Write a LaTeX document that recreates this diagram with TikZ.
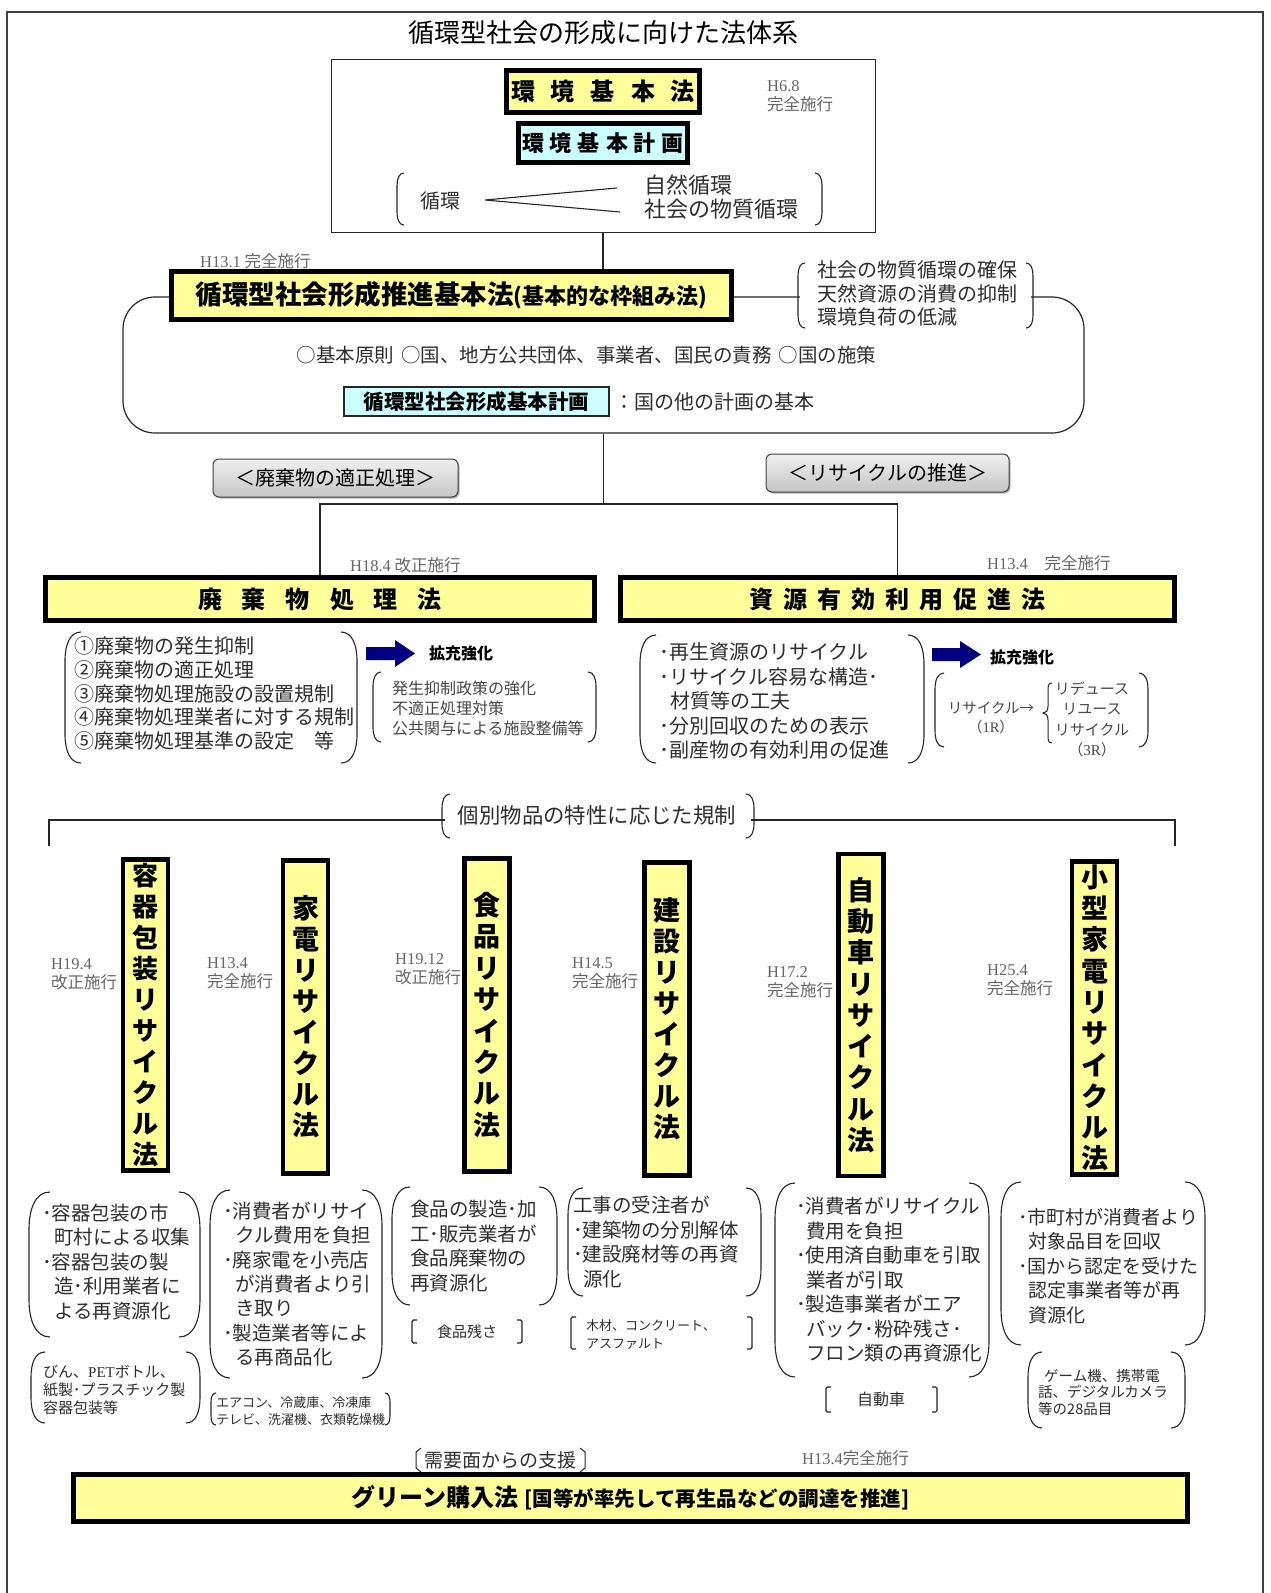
\documentclass[tikz,border=0pt]{standalone}
\usepackage{fontspec}
\setmainfont{Noto Sans CJK JP}
\newfontfamily\latf{Liberation Serif}
\usetikzlibrary{shadows}
\definecolor{lawy}{HTML}{FFFF99}
\definecolor{plan}{HTML}{CCFFFF}
\definecolor{navyb}{HTML}{000080}
\newcommand\fsz[2]{\fontsize{#1pt}{#2pt}\selectfont}
\newcommand\LB[4]{\draw[brk] (#1+#4,#2) .. controls (#1+0.3*#4,#2) and (#1,#2+0.8*#4) .. (#1,#2+1.8*#4) -- (#1,#3-1.8*#4) .. controls (#1,#3-0.8*#4) and (#1+0.3*#4,#3) .. (#1+#4,#3);}
\newcommand\RB[4]{\draw[brk] (#1-#4,#2) .. controls (#1-0.3*#4,#2) and (#1,#2+0.8*#4) .. (#1,#2+1.8*#4) -- (#1,#3-1.8*#4) .. controls (#1,#3-0.8*#4) and (#1-0.3*#4,#3) .. (#1-#4,#3);}
\newcommand\SLB[4]{\draw[brk, rounded corners=1.5pt] (#1+#4,#2) -- (#1,#2) -- (#1,#3) -- (#1+#4,#3);}
\newcommand\SRB[4]{\draw[brk, rounded corners=1.5pt] (#1-#4,#2) -- (#1,#2) -- (#1,#3) -- (#1-#4,#3);}
\newcommand\infr[2][4.5]{\draw[line width=0.8pt] ([shift={(#1,#1)}]#2.north west) rectangle ([shift={(-#1,-#1)}]#2.south east);}
\begin{document}
\begin{tikzpicture}[x=1pt,y=-1pt,
  txt/.style={inner sep=0pt, text=black!82},
  dt/.style={inner sep=0pt, text=black!60, font=\fsz{16.5}{19}, align=left, anchor=west},
  law/.style={draw=black, line width=4pt, fill=lawy, inner sep=0pt, font=\bfseries},
  vlaw/.style={law, line width=3.5pt, minimum width=46pt, align=center},
  brk/.style={draw=black!85, line width=1.1pt},
  conn/.style={draw=black!85, line width=1.2pt},
  grad/.style={draw=black!75, line width=1pt, rounded corners=6pt, top color=gray!12, bottom color=gray!45,
     minimum height=38pt, inner sep=0pt, font=\fsz{20}{24},
     drop shadow={shadow xshift=1.5pt, shadow yshift=-1.5pt, fill=black!50, opacity=.6}},
  vl/.style={txt, anchor=west, align=left}
]
\useasboundingbox (0,0) rectangle (1270,1593);
\fill[white] (0,0) rectangle (1270,1593);
\draw[black!75, line width=1.2pt] (7,1593) -- (7,12) -- (1263,12) -- (1263,1593);

% title
\node[inner sep=0pt, font=\fsz{26}{30}] (title) at (603,33) {循環型社会の形成に向けた法体系};

% environment box
\node[draw=black!85, line width=1pt, minimum width=544pt, minimum height=173pt, inner sep=0pt] (envbox) at (603,145.5) {};
\node[law, minimum width=194pt, minimum height=43pt, font=\bfseries\fsz{24}{28}] (kankyo) at (603,91.5)
  {環\hspace{16pt}境\hspace{16pt}基\hspace{16pt}本\hspace{16pt}法};
\infr{kankyo}
\node[law, fill=plan, line width=3.5pt, minimum width=170pt, minimum height=40pt, font=\bfseries\fsz{22}{26}] (keikaku) at (603,143)
  {環\hspace{6pt}境\hspace{6pt}基\hspace{6pt}本\hspace{6pt}計\hspace{6pt}画};
\infr[4]{keikaku}
\node[dt] (d1) at (767,96) {{\latf H6.8}\\完全施行};
\LB{397}{173}{225}{7}
\RB{822}{173}{225}{7}
\node[txt, font=\fsz{20}{24}] (jun) at (440,201) {循環};
\coordinate (apex) at (485,200);
\coordinate (e1) at (617,188);
\coordinate (e2) at (620,212);
\draw[brk] (e1) -- (apex) -- (e2);
\node[txt, anchor=west, font=\fsz{22}{24}] (shizen) at (644,185) {自然循環};
\node[txt, anchor=west, font=\fsz{22}{24}] (shakai) at (644,209) {社会の物質循環};

% basic law frame
\node[draw=black!85, line width=1.2pt, rounded corners=32pt, minimum width=961pt, minimum height=136pt, inner sep=0pt] (bigrr) at (603.5,365) {};
\node[dt] (d2) at (200,261) {{\latf H13.1} 完全施行};
\node[law, minimum width=561pt, minimum height=49pt] (junkan) at (451.5,295.5)
  {{\fsz{26.5}{30}循環型社会形成推進基本法}{\fsz{22}{26}(基本的な枠組み法)}};
\infr{junkan}
\draw[conn] (envbox.south) -- (envbox.south |- junkan.north);
\node[fill=white, minimum width=231pt, minimum height=62pt, inner sep=0pt] (goalbg) at (915.5,295.5) {};
\LB{798}{263}{328}{7}
\RB{1033}{263}{328}{7}
\node[vl, font=\fsz{20}{23.5}] (goals) at (817,293.5) {社会の物質循環の確保\\天然資源の消費の抑制\\環境負荷の低減};
\node[txt, font=\fsz{19.5}{24}] (gensoku) at (586.5,355) {○基本原則\hspace{7pt}○国、地方公共団体、事業者、国民の責務\hspace{7pt}○国の施策};
\node[draw=black!85, line width=1.3pt, fill=plan, minimum width=265pt, minimum height=29pt, inner sep=0pt, font=\bfseries\fsz{20.5}{24}] (jplan) at (476.5,401.5) {循環型社会形成基本計画};
\node[txt, anchor=west, font=\fsz{20}{24}] (kihon) at (614,402) {：国の他の計画の基本};

% headings
\node[grad, minimum width=245pt] (tekisei) at (335.5,478) {＜廃棄物の適正処理＞};
\node[grad, minimum width=243pt] (suishin) at (887.5,473) {＜リサイクルの推進＞};

% two laws
\node[dt] (d3) at (350,565) {{\latf H18.4} 改正施行};
\node[dt] (d4) at (987,563) {{\latf H13.4}　完全施行};
\node[law, minimum width=550pt, minimum height=44pt, font=\bfseries\fsz{24}{28}] (haiki) at (320,599)
  {廃\hspace{20pt}棄\hspace{20pt}物\hspace{20pt}処\hspace{20pt}理\hspace{20pt}法};
\infr{haiki}
\node[law, minimum width=555pt, minimum height=44pt, font=\bfseries\fsz{24}{28}] (shigen) at (897.5,599)
  {資\hspace{10pt}源\hspace{10pt}有\hspace{10pt}効\hspace{10pt}利\hspace{10pt}用\hspace{10pt}促\hspace{10pt}進\hspace{10pt}法};
\infr{shigen}
\coordinate (split) at (603.5,504);
\draw[conn] (bigrr.south) -- (split);
\draw[conn] (haiki.north) |- (split) -| (shigen.north);

% waste law list
\LB{65}{632}{763}{16}
\RB{357}{632}{763}{16}
\node[vl, font=\fsz{20}{23.7}] (hlist) at (74,693.5) {①廃棄物の発生抑制\\②廃棄物の適正処理\\③廃棄物処理施設の設置規制\\④廃棄物処理業者に対する規制\\⑤廃棄物処理基準の設定　等};
\fill[navyb] (366,647) -- (395,647) -- (395,640) -- (415,653.5) -- (395,667) -- (395,660) -- (366,660) -- cycle;
\node[inner sep=0pt, anchor=west, font=\bfseries\fsz{16}{19}] (kaku1) at (429,653) {拡充強化};
\LB{373}{672}{742}{8}
\RB{596}{672}{742}{8}
\node[vl, text=black!72, font=\fsz{16}{20}] (hsub) at (392,708) {発生抑制政策の強化\\不適正処理対策\\公共関与による施設整備等};

% resource law list
\LB{640}{635}{763}{16}
\RB{924}{635}{763}{16}
\node[vl, font=\fsz{20}{24.5}] (slist) at (659,701) {･再生資源のリサイクル\\･リサイクル容易な構造･\\\hspace*{11pt}材質等の工夫\\･分別回収のための表示\\･副産物の有効利用の促進};
\fill[navyb] (932,648) -- (960,648) -- (960,641) -- (981,654.5) -- (960,668) -- (960,661) -- (932,661) -- cycle;
\node[inner sep=0pt, anchor=west, font=\bfseries\fsz{16}{19}] (kaku2) at (990,657) {拡充強化};
\LB{935}{673}{747}{9}
\RB{1148}{673}{747}{9}
\node[txt, text=black!72, font=\fsz{14.5}{19}, align=center] (r1) at (991,718) {リサイクル→\\（{\latf 1R}）};
\draw[brk, line width=1pt] (1052,683) .. controls (1048,683) and (1048,686) .. (1048,692) -- (1048,706) .. controls (1048,711) and (1046,713) .. (1043,713) .. controls (1046,713) and (1048,715) .. (1048,720) -- (1048,734) .. controls (1048,740) and (1048,743) .. (1052,743);
\node[txt, text=black!72, font=\fsz{15}{20.5}, align=center] (r3) at (1092,719.5) {リデュース\\リユース\\リサイクル\\（{\latf 3R}）};

% individual items heading
\coordinate (kl) at (49,846);
\coordinate (kr) at (1175,846);
\coordinate (ktop) at (612,820);
\draw[conn] (kl) |- (ktop) -| (kr);
\node[fill=white, minimum width=306pt, minimum height=30pt, inner sep=0pt] (kbg) at (598,820) {};
\LB{442}{794}{838}{8}
\RB{754}{794}{838}{8}
\node[txt, font=\fsz{21.4}{25}] (kobetsu) at (597,815) {個別物品の特性に応じた規制};

% vertical laws
\node[vlaw, minimum height=312pt, font=\bfseries\fsz{26}{31}] (youki) at (145.5,1015) {容\\器\\包\\装\\リ\\サ\\イ\\ク\\ル\\法};
\infr[4]{youki}
\node[vlaw, minimum height=314pt, font=\bfseries\fsz{27}{31}] (kaden) at (305.5,1017) {家\\電\\リ\\サ\\イ\\ク\\ル\\法};
\infr[4]{kaden}
\node[vlaw, minimum height=314pt, font=\bfseries\fsz{27}{31.4}] (shoku) at (487,1015) {食\\品\\リ\\サ\\イ\\ク\\ル\\法};
\infr[4]{shoku}
\node[vlaw, minimum height=314pt, font=\bfseries\fsz{27}{31}] (kensetsu) at (667,1019) {建\\設\\リ\\サ\\イ\\ク\\ル\\法};
\infr[4]{kensetsu}
\node[vlaw, minimum height=323pt, font=\bfseries\fsz{27}{31.25}] (jidou) at (861,1015) {自\\動\\車\\リ\\サ\\イ\\ク\\ル\\法};
\infr[4]{jidou}
\node[vlaw, minimum height=314pt, font=\bfseries\fsz{27}{31.3}] (kogata) at (1094.5,1018) {小\\型\\家\\電\\リ\\サ\\イ\\ク\\ル\\法};
\infr[4]{kogata}
\node[dt] (v1) at (51,974) {{\latf H19.4}\\改正施行};
\node[dt] (v2) at (207,973) {{\latf H13.4}\\完全施行};
\node[dt] (v3) at (395,969) {{\latf H19.12}\\改正施行};
\node[dt] (v4) at (572,973) {{\latf H14.5}\\完全施行};
\node[dt] (v5) at (767,982) {{\latf H17.2}\\完全施行};
\node[dt] (v6) at (987,980) {{\latf H25.4}\\完全施行};

% bottom groups
\LB{29}{1192}{1337}{21}
\RB{200}{1192}{1337}{21}
\node[vl, font=\fsz{19.5}{24.5}] (g1) at (42,1262) {･容器包装の市\\\hspace*{12pt}町村による収集\\･容器包装の製\\\hspace*{12pt}造･利用業者に\\\hspace*{12pt}よる再資源化};
\LB{31}{1352}{1423}{14}
\RB{200}{1352}{1423}{14}
\node[vl, font=\fsz{15}{18}] (g1s) at (43,1390) {びん、{\latf PET}ボトル、\\紙製･プラスチック製\\容器包装等};

\LB{210}{1190}{1378}{20}
\RB{382}{1190}{1378}{20}
\node[vl, font=\fsz{19.5}{24.3}] (g2) at (223,1284) {･消費者がリサイ\\\hspace*{12pt}クル費用を負担\\･廃家電を小売店\\\hspace*{12pt}が消費者より引\\\hspace*{12pt}き取り\\･製造業者等によ\\\hspace*{12pt}る再商品化};
\LB{211}{1393}{1425}{5}
\RB{390}{1393}{1425}{5}
\node[vl, font=\fsz{13}{17}] (g2s) at (216,1411.5) {エアコン、冷蔵庫、冷凍庫\\テレビ、洗濯機、衣類乾燥機};

\LB{392}{1187}{1305}{18}
\RB{557}{1187}{1305}{18}
\node[vl, font=\fsz{19.5}{24.5}] (g3) at (410,1246) {食品の製造･加\\工･販売業者が\\食品廃棄物の\\再資源化};
\SLB{412}{1320}{1343}{5}
\SRB{522}{1320}{1343}{5}
\node[txt, font=\fsz{15}{18}] (g3s) at (467,1332) {食品残さ};

\LB{568}{1188}{1296}{15}
\RB{761}{1188}{1296}{15}
\node[vl, font=\fsz{19.5}{24.5}] (g4) at (573,1242) {工事の受注者が\\･建築物の分別解体\\･建設廃材等の再資\\\hspace*{10pt}源化};
\SLB{571}{1317}{1349}{5}
\SRB{752}{1317}{1349}{5}
\node[vl, font=\fsz{13}{18}] (g4s) at (586,1335) {木材、コンクリート、\\アスファルト};

\LB{775}{1183}{1377}{20}
\RB{989}{1183}{1377}{20}
\node[vl, font=\fsz{19.5}{24.5}] (g5) at (796,1280) {･消費者がリサイクル\\\hspace*{10pt}費用を負担\\･使用済自動車を引取\\\hspace*{10pt}業者が引取\\･製造事業者がエア\\\hspace*{10pt}バック･粉砕残さ･\\\hspace*{10pt}フロン類の再資源化};
\SLB{826}{1387}{1412}{5}
\SRB{937}{1387}{1412}{5}
\node[txt, font=\fsz{16}{18}] (g5s) at (881,1399) {自動車};

\LB{1001}{1182}{1345}{20}
\RB{1205}{1182}{1345}{20}
\node[vl, font=\fsz{19}{24.5}] (g6) at (1018,1266) {･市町村が消費者より\\\hspace*{10pt}対象品目を回収\\･国から認定を受けた\\\hspace*{10pt}認定事業者等が再\\\hspace*{10pt}資源化};
\LB{1028}{1352}{1428}{14}
\RB{1185}{1352}{1428}{14}
\node[vl, font=\fsz{14.5}{16.5}] (g6s) at (1038,1392) {\hspace*{6pt}ゲーム機、携帯電\\話、デジタルカメラ\\等の28品目};

% green purchasing law
\node[txt, font=\fsz{19}{23}] (juyo) at (500.5,1460) {需要面からの支援};
\draw[brk, line width=1pt] (421,1448) -- (416,1452) -- (416,1468) -- (421,1472);
\draw[brk, line width=1pt] (580,1448) -- (585,1452) -- (585,1468) -- (580,1472);
\node[dt] (d13) at (802,1458) {{\latf H13.4}完全施行};
\node[law, minimum width=1115pt, minimum height=48pt] (green) at (630.5,1498)
  {{\fsz{24}{28}グリーン購入法}\hspace{6pt}{\fsz{20.5}{24}[国等が率先して再生品などの調達を推進]}};
\infr{green}
\end{tikzpicture}
\end{document}
